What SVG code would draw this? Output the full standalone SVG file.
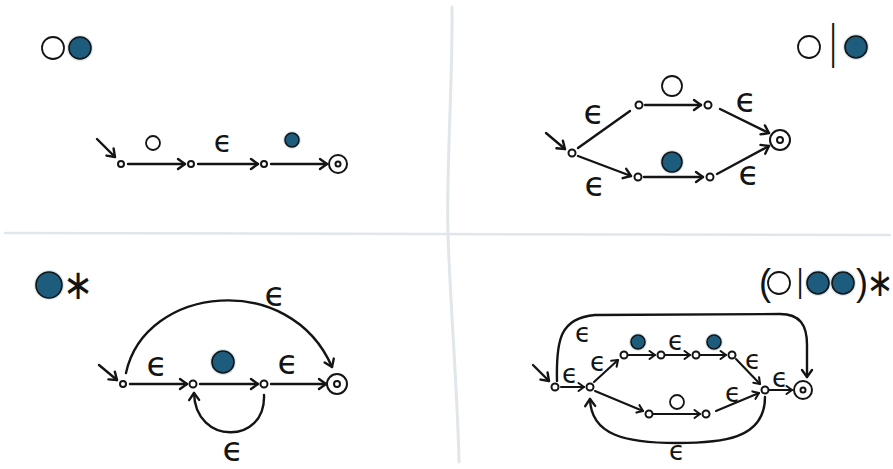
<svg xmlns="http://www.w3.org/2000/svg" width="893" height="469" viewBox="0 0 893 469">
  <style>
    .edge { fill: none; stroke: #141414; stroke-width: 2.4; stroke-linecap: round; stroke-linejoin: round; }
    .edge.arr { marker-end: url(#arrow); }
    .edge.sm { stroke-width: 2.1; marker-end: url(#arrowSm); }
    .state { fill: #fff; stroke: #141414; stroke-width: 2; }
    .sym-w { fill: #fff; stroke: #141414; stroke-width: 1.8; }
    .sym-b { fill: #1e5c7d; stroke: #141414; stroke-width: 1.6; }
    .halo { fill: #8fbbd2; opacity: 0.35; }
    .eps { font-family: "DejaVu Sans", sans-serif; fill: #141414; text-anchor: middle; }
    .op { font-family: "Liberation Sans", sans-serif; fill: #141414; text-anchor: middle; }
    .sep { fill: none; stroke: #e0e6ea; stroke-linecap: round; }
  </style>
  <defs>
    <marker id="arrow" markerUnits="userSpaceOnUse" markerWidth="14" markerHeight="14" refX="10" refY="6" orient="auto" overflow="visible">
      <path d="M3,1 L10,6 L3,11" fill="none" stroke="#141414" stroke-width="2.4" stroke-linecap="round" stroke-linejoin="round"/>
    </marker>
    <marker id="arrowSm" markerUnits="userSpaceOnUse" markerWidth="12" markerHeight="12" refX="8" refY="5" orient="auto" overflow="visible">
      <path d="M2.5,1 L8,5 L2.5,9" fill="none" stroke="#141414" stroke-width="2.1" stroke-linecap="round" stroke-linejoin="round"/>
    </marker>
  </defs>

  <rect width="893" height="469" fill="#fff"/>

  <!-- quadrant dividers -->
  <g id="dividers">
    <path class="sep" stroke-width="3" d="M452,7 C453,80 446,170 448,234 C450,300 458,400 459,462"/>
    <path class="sep" stroke-width="2.5" d="M5,233 L890,235"/>
  </g>

  <!-- ===== concatenation: O then blue ===== -->
  <g id="title-concat">
    <circle class="sym-w" cx="53" cy="48" r="11"/>
    <circle class="halo" cx="80" cy="48" r="13"/>
    <circle class="sym-b" cx="80" cy="48" r="11"/>
  </g>
  <g id="concat-connectors">
    <path class="edge arr" d="M97,139 L115,157"/>
    <path class="edge arr" d="M128,164 L185,164"/>
    <path class="edge arr" d="M198,164 L258,164"/>
    <path class="edge arr" d="M271,164 L327,164"/>
  </g>
  <g id="concat-labels">
    <circle class="sym-w" cx="153" cy="143" r="7"/>
    <text class="eps" x="223" y="152" font-size="30">ϵ</text>
    <circle class="halo" cx="292" cy="140" r="9"/>
    <circle class="sym-b" cx="292" cy="140" r="7"/>
  </g>
  <g id="c0"><circle class="state" cx="121" cy="164" r="3"/></g>
  <g id="c1"><circle class="state" cx="191" cy="164" r="3"/></g>
  <g id="c2"><circle class="state" cx="264" cy="164" r="3"/></g>
  <g id="c3"><circle class="state" cx="338" cy="164" r="9"/><circle class="state" cx="338" cy="164" r="2.5"/></g>

  <!-- ===== alternation: O | blue ===== -->
  <g id="title-alt">
    <circle class="sym-w" cx="809" cy="47" r="11"/>
    <text class="op" font-size="24" transform="translate(833,58) scale(1,2)">|</text>
    <circle class="halo" cx="856" cy="47" r="13"/>
    <circle class="sym-b" cx="856" cy="47" r="11"/>
  </g>
  <g id="alt-connectors">
    <path class="edge arr" d="M546,133 L565,149"/>
    <path class="edge" d="M578,148 L630,111"/>
    <path class="edge arr" d="M645,105 L701,105"/>
    <path class="edge arr" d="M720,109 L769,133"/>
    <path class="edge arr" d="M578,156 L631,176"/>
    <path class="edge arr" d="M644,177 L703,177"/>
    <path class="edge arr" d="M717,174 L769,146"/>
  </g>
  <g id="alt-labels">
    <text class="eps" x="594" y="124" font-size="34">ϵ</text>
    <circle class="sym-w" cx="672" cy="86" r="10"/>
    <text class="eps" x="746" y="112" font-size="34">ϵ</text>
    <text class="eps" x="595" y="196" font-size="34">ϵ</text>
    <circle class="halo" cx="672" cy="162" r="12"/>
    <circle class="sym-b" cx="672" cy="162" r="10"/>
    <text class="eps" x="749" y="185" font-size="34">ϵ</text>
  </g>
  <g id="a0"><circle class="state" cx="572" cy="153" r="3.5"/></g>
  <g id="a1"><circle class="state" cx="639" cy="105" r="3.5"/></g>
  <g id="a2"><circle class="state" cx="708" cy="105" r="3.5"/></g>
  <g id="a3"><circle class="state" cx="638" cy="177" r="3.5"/></g>
  <g id="a4"><circle class="state" cx="710" cy="177" r="3.5"/></g>
  <g id="a5"><circle class="state" cx="780" cy="140" r="10"/><circle class="state" cx="780" cy="140" r="3"/></g>

  <!-- ===== Kleene star: blue* ===== -->
  <g id="title-star">
    <circle class="halo" cx="49" cy="285" r="15"/>
    <circle class="sym-b" cx="49" cy="285" r="13"/>
    <text class="eps" font-size="30" transform="translate(78,299) scale(1.2,1.4)">∗</text>
  </g>
  <g id="star-connectors">
    <path class="edge arr" d="M99,365 L117,380"/>
    <path class="edge arr" d="M126,373 C145,285 290,270 332,367"/>
    <path class="edge arr" d="M130,384 L187,384"/>
    <path class="edge arr" d="M200,384 L258,384"/>
    <path class="edge arr" d="M271,384 L326,384"/>
    <path class="edge arr" d="M264,395 C266,445 195,445 194,393"/>
  </g>
  <g id="star-labels">
    <text class="eps" x="275" y="306" font-size="34">ϵ</text>
    <text class="eps" x="157" y="376" font-size="34">ϵ</text>
    <circle class="halo" cx="223" cy="362" r="13"/>
    <circle class="sym-b" cx="223" cy="362" r="11"/>
    <text class="eps" x="288" y="374" font-size="34">ϵ</text>
    <text class="eps" x="233" y="461" font-size="34">ϵ</text>
  </g>
  <g id="k0"><circle class="state" cx="123" cy="384" r="3"/></g>
  <g id="k1"><circle class="state" cx="193" cy="384" r="3.5"/></g>
  <g id="k2"><circle class="state" cx="264" cy="384" r="3.5"/></g>
  <g id="k3"><circle class="state" cx="337" cy="384" r="10"/><circle class="state" cx="337" cy="384" r="3"/></g>

  <!-- ===== combined: (O | blue blue)* ===== -->
  <g id="title-combined">
    <text class="op" x="765" y="295" font-size="36">(</text>
    <circle class="sym-w" cx="779" cy="283" r="11"/>
    <text class="op" font-size="24" transform="translate(800,291.5) scale(1,1.4)">|</text>
    <circle class="halo" cx="818" cy="283" r="13"/>
    <circle class="sym-b" cx="818" cy="283" r="11"/>
    <circle class="halo" cx="843" cy="283" r="13"/>
    <circle class="sym-b" cx="843" cy="283" r="11"/>
    <text class="op" x="862" y="295" font-size="36">)</text>
    <text class="eps" font-size="28" transform="translate(880,296) scale(1.15,1.4)">∗</text>
  </g>
  <g id="combined-connectors">
    <path class="edge arr" d="M533,365 L549,381"/>
    <path class="edge sm" d="M561,387 L584,387"/>
    <path class="edge arr" d="M557,381 C556,340 560,318 595,315 L780,314 C800,314 807,325 807,345 L807,377"/>
    <path class="edge sm" d="M594,382 L618,360"/>
    <path class="edge sm" d="M628,355 L655,355"/>
    <path class="edge sm" d="M665,355 L690,355"/>
    <path class="edge sm" d="M700,355 L726,355"/>
    <path class="edge sm" d="M736,359 L760,384"/>
    <path class="edge sm" d="M769,390 L792,390"/>
    <path class="edge sm" d="M595,391 L643,411"/>
    <path class="edge sm" d="M653,414 L700,414"/>
    <path class="edge sm" d="M716,411 L759,393"/>
    <path class="edge arr" d="M765,397 C765,440 720,443 677,443 C625,443 591,435 590,399"/>
  </g>
  <g id="combined-labels">
    <text class="eps" x="570" y="383" font-size="26">ϵ</text>
    <text class="eps" x="583" y="342" font-size="26">ϵ</text>
    <text class="eps" x="598" y="371" font-size="26">ϵ</text>
    <circle class="halo" cx="638" cy="342" r="9"/>
    <circle class="sym-b" cx="638" cy="342" r="7"/>
    <text class="eps" x="676" y="350" font-size="26">ϵ</text>
    <circle class="halo" cx="714" cy="342" r="9"/>
    <circle class="sym-b" cx="714" cy="342" r="7"/>
    <text class="eps" x="753" y="369" font-size="26">ϵ</text>
    <text class="eps" x="780" y="387" font-size="26">ϵ</text>
    <circle class="sym-w" cx="677" cy="402" r="7"/>
    <text class="eps" x="733" y="402" font-size="26">ϵ</text>
    <text class="eps" x="677" y="460" font-size="26">ϵ</text>
  </g>
  <g id="m0"><circle class="state" cx="555" cy="387" r="3.5"/></g>
  <g id="m1"><circle class="state" cx="590" cy="387" r="3.5"/></g>
  <g id="m2"><circle class="state" cx="624" cy="355" r="3.5"/></g>
  <g id="m3"><circle class="state" cx="661" cy="355" r="3.5"/></g>
  <g id="m4"><circle class="state" cx="696" cy="355" r="3.5"/></g>
  <g id="m5"><circle class="state" cx="732" cy="355" r="3.5"/></g>
  <g id="m6"><circle class="state" cx="765" cy="390" r="3.5"/></g>
  <g id="m7"><circle class="state" cx="649" cy="414" r="3.5"/></g>
  <g id="m8"><circle class="state" cx="706" cy="414" r="3.5"/></g>
  <g id="m9"><circle class="state" cx="803" cy="390" r="9"/><circle class="state" cx="803" cy="390" r="2.5"/></g>
</svg>
